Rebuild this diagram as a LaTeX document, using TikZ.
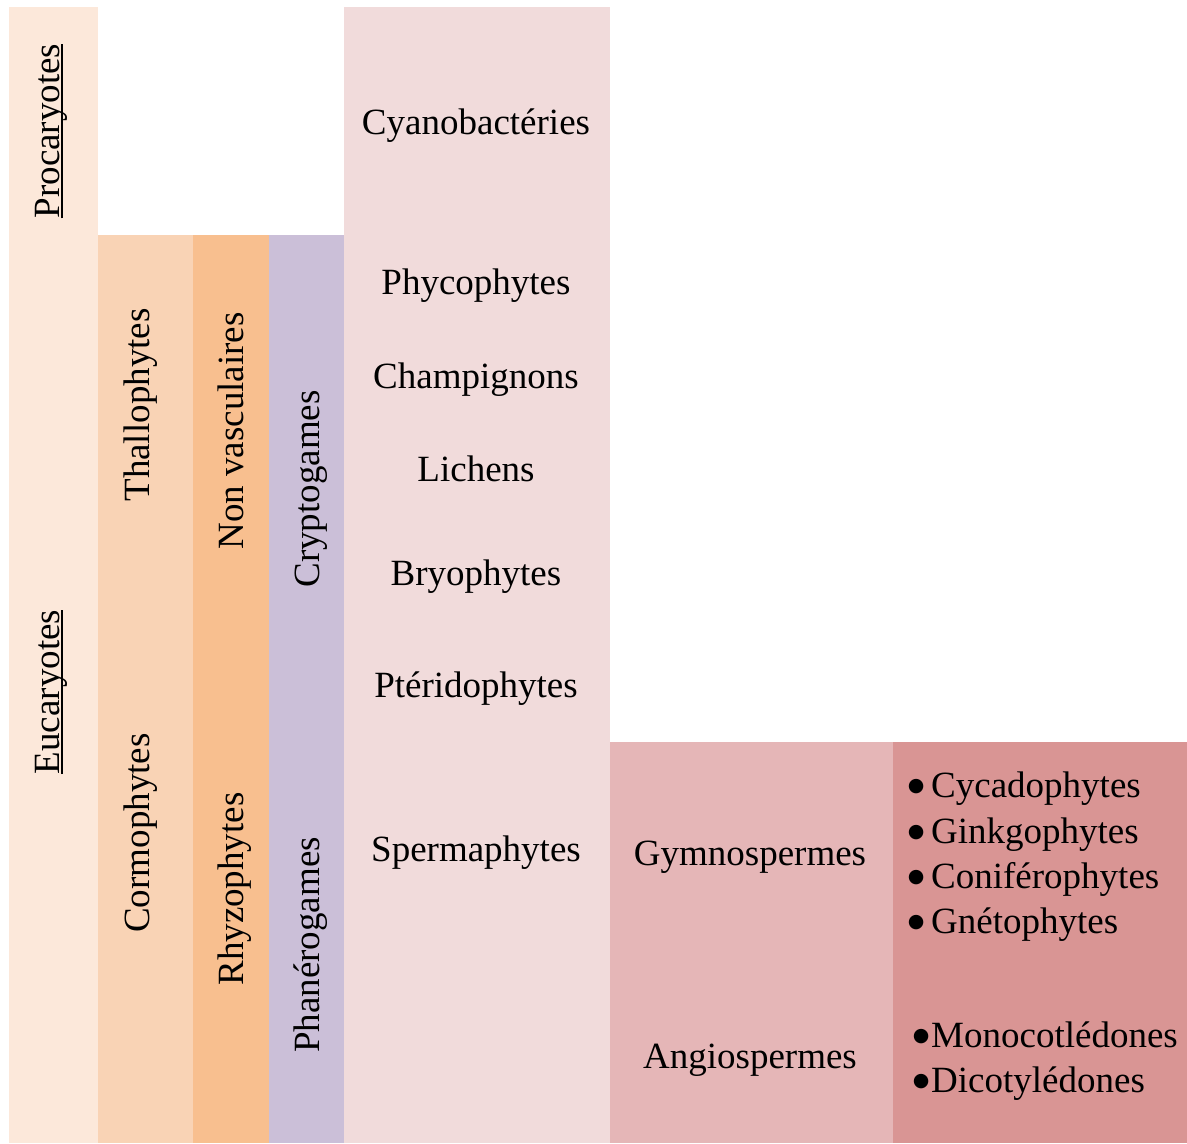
\documentclass[tikz,border=0pt]{standalone}
\usepackage{fontspec}
\setmainfont{Liberation Serif}
\newfontfamily\dvs{DejaVu Sans}
\definecolor{cA}{HTML}{FCE8DA}
\definecolor{cB}{HTML}{F9D3B5}
\definecolor{cC}{HTML}{F8BF8F}
\definecolor{cD}{HTML}{CBBFD8}
\definecolor{cE}{HTML}{F1DBDB}
\definecolor{cF}{HTML}{E5B6B7}
\definecolor{cG}{HTML}{D99594}
\newcommand{\myul}[1]{\setbox0\hbox{#1}\rlap{\rule[-3.5bp]{\wd0}{1.8bp}}\box0}
\newcommand{\mybul}[1]{\llap{\raisebox{5.5bp}{\dvs\fontsize{19bp}{19bp}\selectfont ●}\hspace{#1}}}
\begin{document}
\begin{tikzpicture}[x=1bp,y=-1bp,
  lbl/.style={inner sep=0pt, font=\fontsize{37bp}{44bp}\selectfont, anchor=base},
  vlbl/.style={lbl, rotate=90},
  item/.style={lbl, anchor=base west}]
\useasboundingbox (0,0) rectangle (1187,1144);
\fill[cA] (9,7) rectangle (98,1143);
\fill[cB] (98,235) rectangle (193,1143);
\fill[cC] (193,235) rectangle (269,1143);
\fill[cD] (269,235) rectangle (344,1143);
\fill[cE] (344,7) rectangle (610,1143);
\fill[cF] (610,742) rectangle (893,1143);
\fill[cG] (893,742) rectangle (1187,1143);
% vertical labels
\node[vlbl] (proc) at (59,131) {\myul{Procaryotes}};
\node[vlbl] (euca) at (59,692) {\myul{Eucaryotes}};
\node[vlbl] (thal) at (149,405) {Thallophytes};
\node[vlbl] (corm) at (149,833) {Cormophytes};
\node[vlbl] (nonv) at (243,431) {Non vasculaires};
\node[vlbl] (rhyz) at (243,889) {Rhyzophytes};
\node[vlbl] (cryp) at (319,489) {Cryptogames};
\node[vlbl] (phan) at (319,945) {Phanérogames};
% column 5
\node[lbl] (cyan) at (476,134) {Cyanobactéries};
\node[lbl] (phyc) at (476,294) {Phycophytes};
\node[lbl] (cham) at (476,388) {Champignons};
\node[lbl] (lich) at (476,481) {Lichens};
\node[lbl] (bryo) at (476,585) {Bryophytes};
\node[lbl] (pter) at (476,697) {Ptéridophytes};
\node[lbl] (sper) at (476,861) {Spermaphytes};
% column 6
\node[lbl] (gymn) at (750,865) {Gymnospermes};
\node[lbl] (angi) at (750,1068) {Angiospermes};
% column 7
\node[item] (cyca) at (931,797) {\mybul{6.8bp}Cycadophytes};
\node[item] (gink) at (931,843) {\mybul{6.8bp}Ginkgophytes};
\node[item] (coni) at (931,888) {\mybul{6.8bp}Coniférophytes};
\node[item] (gnet) at (931,933) {\mybul{6.8bp}Gnétophytes};
\node[item] (mono) at (931,1047) {\mybul{1.8bp}Monocotlédones};
\node[item] (dico) at (931,1092) {\mybul{1.8bp}Dicotylédones};
\end{tikzpicture}
\end{document}
